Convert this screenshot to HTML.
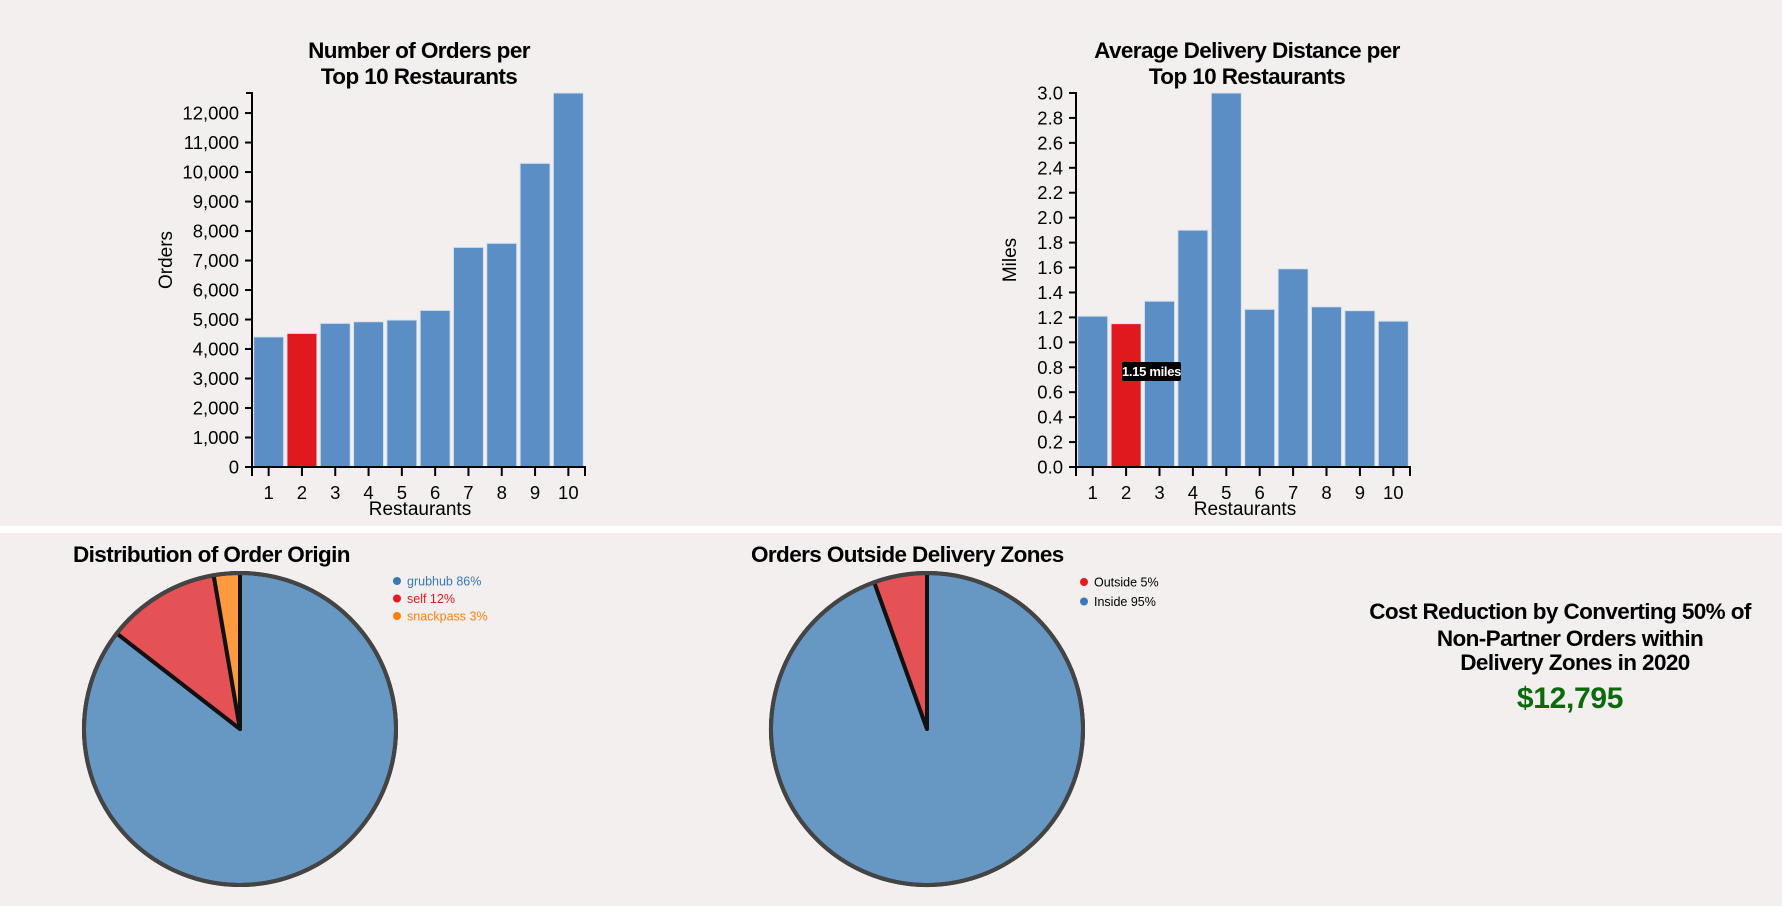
<!DOCTYPE html>
<html><head><meta charset="utf-8">
<style>
html,body{margin:0;padding:0;background:#f2efee;}
svg{display:block;font-family:"Liberation Sans",Arial,sans-serif;}
.t{font-weight:bold;font-size:22.5px;letter-spacing:-0.6px;fill:#000;}
.tick{font-size:18.5px;fill:#000;}
.lab{font-size:19px;fill:#000;}
</style></head>
<body>
<svg id="s" width="1782" height="906" viewBox="0 0 1782 906">
<rect x="0" y="0" width="1782" height="906" fill="#f2efee"/>
<rect x="0" y="526" width="1782" height="7" fill="#ffffff"/>
<g id="c1">
<text class="t" x="419" y="58" text-anchor="middle">Number of Orders per</text>
<text class="t" x="419" y="84" text-anchor="middle">Top 10 Restaurants</text>
<text class="lab" transform="translate(172,260) rotate(-90)" text-anchor="middle">Orders</text>
<text class="lab" x="420" y="515" text-anchor="middle">Restaurants</text>
</g>
<g id="c2">
<text class="t" x="1247" y="58" text-anchor="middle">Average Delivery Distance per</text>
<text class="t" x="1247" y="84" text-anchor="middle">Top 10 Restaurants</text>
<text class="lab" transform="translate(1016,260) rotate(-90)" text-anchor="middle">Miles</text>
<text class="lab" x="1245" y="515" text-anchor="middle">Restaurants</text>
</g>
<g id="p1">
<text class="t" x="73" y="562">Distribution of Order Origin</text>
</g>
<g id="p2">
<text class="t" x="751" y="562">Orders Outside Delivery Zones</text>
</g>
<g>
<text class="t" x="1560" y="619" text-anchor="middle">Cost Reduction by Converting 50% of</text>
<text class="t" x="1570" y="646" text-anchor="middle">Non-Partner Orders within</text>
<text class="t" x="1575" y="670" text-anchor="middle">Delivery Zones in 2020</text>
<text x="1570" y="708" text-anchor="middle" style="font-weight:bold;font-size:30px;fill:#0b6a0b;letter-spacing:-0.3px">$12,795</text>
</g>
</svg>
<script>
const NS="http://www.w3.org/2000/svg";
const restaurants=["1","2","3","4","5","6","7","8","9","10"];
const orders=[4410,4530,4870,4925,4983,5310,7447,7583,10295,12680];
const orderTicks=[0,1000,2000,3000,4000,5000,6000,7000,8000,9000,10000,11000,12000];
const miles=[1.21,1.15,1.33,1.90,3.0,1.265,1.59,1.285,1.254,1.17];
const mileTicks=[0,0.2,0.4,0.6,0.8,1.0,1.2,1.4,1.6,1.8,2.0,2.2,2.4,2.6,2.8,3.0];
const highlightIndex=1;
const originLabels=["grubhub","self","snackpass"];
const originValues=[85.5,11.8,2.7];
const originPct=["86%","12%","3%"];
const zoneLabels=["Inside","Outside"];
const zoneValues=[94.5,5.5];
const zonePct=["95%","5%"];

function mk(tag,attrs,parent){const e=document.createElementNS(NS,tag);for(const k in attrs)e.setAttribute(k,attrs[k]);parent.appendChild(e);return e;}

function barChart(g,vals,ticks,maxV,x0,x1,y0,y1,fmt,pre){
  const bw=(x1-x0)/vals.length;
  const ys=v=>y0-(v/maxV)*(y0-y1);
  const xs=i=>x0+i*bw;
  vals.forEach((v,i)=>{
    const r=mk("rect",{x:xs(i)+bw*0.05,y:ys(v),width:bw*0.9,height:y0-ys(v),fill:i===highlightIndex?"#e0191e":"#5b8ec5",stroke:"#d8e2ee","stroke-width":1},g);
    
    
  });
  const ax=mk("path",{d:`M${x0-6},${y1}H${x0}V${y0}H${x0-6}`,fill:"none",stroke:"#000","stroke-width":2},g);
  
  
  ticks.forEach(t=>{
    mk("line",{x1:x0-7,x2:x0,y1:ys(t),y2:ys(t),stroke:"#000","stroke-width":2},g);
    const tx=mk("text",{x:x0-13,y:ys(t)+6.5,"text-anchor":"end",class:"tick"},g);
    tx.textContent=fmt(t);
    
    
  });
  const bx=mk("path",{d:`M${x0},${y0+9}V${y0}H${x1}V${y0+9}`,fill:"none",stroke:"#000","stroke-width":2},g);
  
  
  restaurants.forEach((c,i)=>{
    const cx=xs(i)+bw/2;
    mk("line",{x1:cx,x2:cx,y1:y0,y2:y0+9,stroke:"#000","stroke-width":2},g);
    const tx=mk("text",{x:cx,y:y0+32,"text-anchor":"middle",class:"tick"},g);
    tx.textContent=c;
    
    
  });
  return {xs,ys,bw};
}
barChart(document.getElementById("c1"),orders,orderTicks,12680,252,585,467,93,v=>v.toLocaleString("en-US"),"orders");
const c2=barChart(document.getElementById("c2"),miles,mileTicks,3.0,1076,1410,467,93,v=>v.toFixed(1),"distance");
const g2=document.getElementById("c2");
const tipY=c2.ys(0.77);
const tb=mk("rect",{x:1122,y:tipY-9,width:59,height:19,rx:2,fill:"#000"},g2);


const tt=mk("text",{x:1151.5,y:tipY+5,"text-anchor":"middle",style:"font-size:13px;font-weight:bold;fill:#fff;letter-spacing:-0.3px"},g2);
tt.textContent=miles[highlightIndex].toFixed(2)+" miles";



function pie(g,vals,labels,fills,cx,cy,r,pre){
  const tot=vals.reduce((a,b)=>a+b,0);
  let a=0;
  vals.forEach((v,i)=>{
    const a0=a, a1=a+v/tot*2*Math.PI; a=a1;
    const p0=[cx+r*Math.sin(a0),cy-r*Math.cos(a0)], p1=[cx+r*Math.sin(a1),cy-r*Math.cos(a1)];
    const large=(a1-a0)>Math.PI?1:0;
    const p=mk("path",{d:`M${cx},${cy}L${p0[0]},${p0[1]}A${r},${r} 0 ${large} 1 ${p1[0]},${p1[1]}Z`,fill:fills[i],stroke:"#111","stroke-width":4,"stroke-linejoin":"round"},g);
    
    
  });
  const o=mk("circle",{cx,cy,r,fill:"none",stroke:"#444","stroke-width":4},g);
  
  
}
function legend(g,items,x,y,dy,pre){
  items.forEach((it,i)=>{
    const d=mk("circle",{cx:x,cy:y+i*dy,r:4,fill:it.dot},g);
    
    
    const t=mk("text",{x:x+10,y:y+i*dy+4.5,style:"font-size:12.5px;fill:"+it.txt},g);
    t.textContent=it.label;
    
    
  });
}
const p1=document.getElementById("p1");
pie(p1,originValues,originLabels,["#6798c4","#e45256","#fd9a3f"],240,729,156,"origin");
legend(p1,[
 {dot:"#3a78b8",txt:"#3a78b8",label:originLabels[0]+" "+originPct[0]},
 {dot:"#e41a1c",txt:"#e41a1c",label:originLabels[1]+" "+originPct[1]},
 {dot:"#ff7f0e",txt:"#ff7f0e",label:originLabels[2]+" "+originPct[2]}],397,581,17.5,"origin");
const p2=document.getElementById("p2");
pie(p2,zoneValues,zoneLabels,["#6798c4","#e45256"],927,729,156,"zone");
legend(p2,[
 {dot:"#e41a1c",txt:"#000",label:zoneLabels[1]+" "+zonePct[1]},
 {dot:"#3a78b8",txt:"#000",label:zoneLabels[0]+" "+zonePct[0]}],1084,582,19.5,"zone");
</script>
</body></html>
